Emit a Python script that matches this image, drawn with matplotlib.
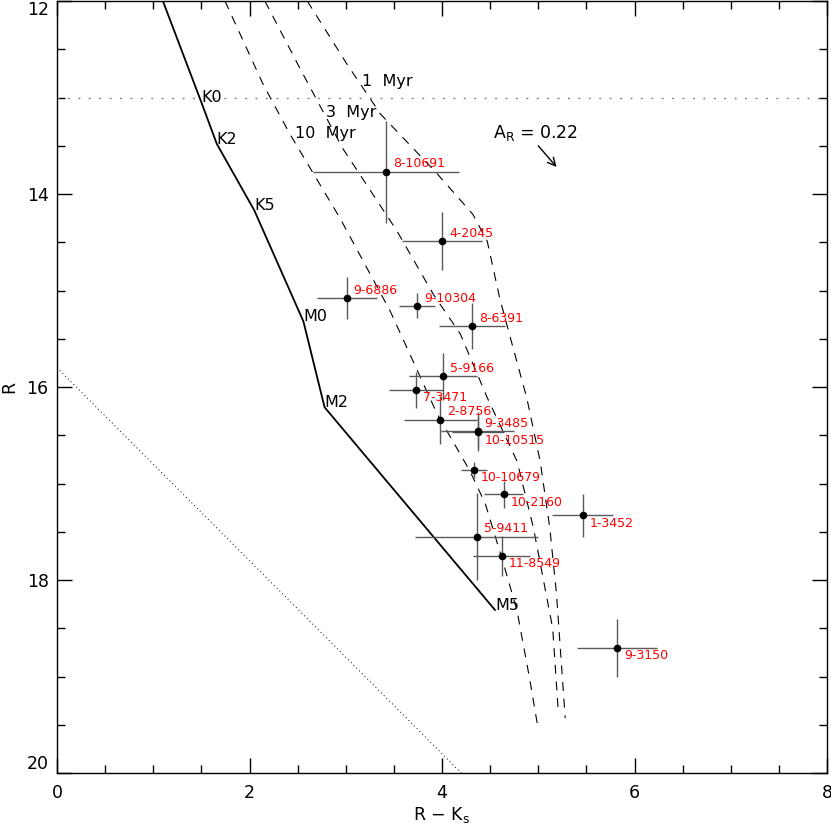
import matplotlib
matplotlib.use("Agg")
import matplotlib.pyplot as plt
import numpy as np

# main sequence (R-Ks, R) with spectral types
ms_color = [1.10, 1.50, 1.66, 2.05, 2.56, 2.78, 4.55]
ms_mag = [12.00, 13.05, 13.48, 14.17, 15.32, 16.21, 18.31]
ms_types = ["", "K0", "K2", "K5", "M0", "M2", "M5"]

# isochrones
iso_names = ["1 Myr", "3 Myr", "10 Myr"]
iso_1_color = [2.60, 3.01, 3.36, 3.95, 4.32, 4.47, 4.60, 4.74, 4.88, 5.02, 5.12, 5.19, 5.28]
iso_1_mag = [12.00, 12.65, 13.17, 13.79, 14.21, 14.49, 15.08, 15.60, 16.11, 16.77, 17.46, 18.15, 19.43]
iso_3_color = [2.16, 2.52, 2.97, 3.53, 3.91, 4.19, 4.47, 4.78, 4.95, 5.05, 5.15, 5.21]
iso_3_mag = [12.00, 12.69, 13.53, 14.38, 15.04, 15.45, 16.11, 16.77, 17.46, 17.98, 18.50, 19.39]
iso_10_color = [1.745, 2.14, 2.42, 2.94, 3.46, 3.95, 4.29, 4.45, 4.63, 4.78, 4.91, 4.99]
iso_10_mag = [12.00, 12.86, 13.38, 14.25, 15.21, 16.28, 16.87, 17.21, 17.80, 18.32, 19.02, 19.49]
iso_label_x = [3.17, 2.79, 2.47]
iso_label_y = [12.88, 13.20, 13.42]

# sources
names = ["8-10691", "4-2045", "9-6886", "9-10304", "8-6391", "5-9166", "7-3471",
         "2-8756", "9-3485", "10-10515", "10-10679", "10-2160", "1-3452",
         "5-9411", "11-8549", "9-3150"]
rk = [3.42, 4.00, 3.01, 3.74, 4.31, 4.01, 3.73, 3.98, 4.37, 4.37, 4.33, 4.64, 5.46,
      4.36, 4.62, 5.82]
rmag = [13.77, 14.49, 15.08, 15.16, 15.37, 15.89, 16.03, 16.34, 16.46, 16.47, 16.86,
        17.11, 17.33, 17.55, 17.75, 18.70]
rk_err = [0.76, 0.42, 0.31, 0.19, 0.34, 0.35, 0.28, 0.38, 0.38, 0.27, 0.135, 0.20,
          0.32, 0.64, 0.295, 0.415]
r_err = [0.53, 0.30, 0.22, 0.13, 0.24, 0.245, 0.19, 0.25, 0.20, 0.16, 0.08, 0.14,
         0.225, 0.455, 0.21, 0.30]
label_below = ["7-3471", "10-10515", "10-10679", "10-2160", "1-3452", "11-8549", "9-3150"]

# reddening vector and limits
a_r = 0.22
e_rk = 0.19
vec_start = (5.00, 13.50)
r_limit = 13.0
k_limit = 15.8

fig = plt.figure(figsize=(8.31, 8.24), dpi=100)
ax = fig.add_axes([57 / 831, 51 / 824, 770 / 831, 772 / 824])

ax.plot([0, 8], [r_limit, r_limit], color="#888888", lw=1.0, ls=(0, (1.5, 6)))
xx = np.array([0, 8])
ax.plot(xx, k_limit + xx, color="black", lw=0.7, ls=(0, (1, 3)))

ax.plot(ms_color, ms_mag, color="black", lw=1.3)
for c, m, t in zip(ms_color, ms_mag, ms_types):
    if t:
        ax.text(c, m, t, fontsize=11.5, ha="left", va="baseline")

for cc, mm in [(iso_1_color, iso_1_mag), (iso_3_color, iso_3_mag), (iso_10_color, iso_10_mag)]:
    ax.plot(cc, mm, color="black", lw=0.8, ls=(0, (8, 7)))
for n, lx, ly in zip(iso_names, iso_label_x, iso_label_y):
    ax.text(lx, ly, n.replace(" ", "  "), fontsize=11.5, ha="left", va="baseline")

ax.errorbar(rk, rmag, xerr=rk_err, yerr=r_err, fmt="o", color="black", ms=4.5,
            ecolor="#5a5a5a", elinewidth=1.0, capsize=0)
for n, c, m in zip(names, rk, rmag):
    if n in label_below:
        ax.annotate(n, (c, m), xytext=(5, -1), textcoords="offset points",
                    color="red", fontsize=9, ha="left", va="top")
    else:
        ax.annotate(n, (c, m), xytext=(5, 1), textcoords="offset points",
                    color="red", fontsize=9, ha="left", va="bottom")

ax.text(4.53, 13.42, r"A$_\mathrm{R}$ = 0.22", fontsize=12.5, ha="left", va="baseline")
ax.annotate("", xy=(vec_start[0] + e_rk, vec_start[1] + a_r), xytext=vec_start,
            arrowprops=dict(arrowstyle="->", color="black", lw=1.0,
                            mutation_scale=14, shrinkA=0, shrinkB=0))

ax.set_xlim(0, 8)
ax.set_ylim(20, 12)
ax.set_xticks([0, 2, 4, 6, 8])
ax.set_yticks([12, 14, 16, 18, 20])
ax.set_xticks(np.arange(0, 8.01, 0.5), minor=True)
ax.set_yticks(np.arange(12, 20.01, 0.5), minor=True)
ax.tick_params(which="both", direction="in", top=True, right=True, labelsize=12.5)
ax.tick_params(which="major", length=11, width=1.0)
ax.tick_params(which="minor", length=5.5, width=1.0)
ax.tick_params(axis="x", pad=8)
ax.tick_params(axis="y", pad=6)
for s in ax.spines.values():
    s.set_linewidth(1.0)

# keep the end labels inside the figure, as in the original
ylabs = ax.get_yticklabels()
fig.canvas.draw()
ylabs = ax.get_yticklabels()
ylabs[0].set_va("top")
ylabs[-1].set_va("bottom")

ax.set_xlabel(r"R $-$ K$_\mathrm{s}$", fontsize=12.5, labelpad=2)
ax.set_ylabel("R", fontsize=12.5, labelpad=6)

fig.savefig("out.png", dpi=100)
